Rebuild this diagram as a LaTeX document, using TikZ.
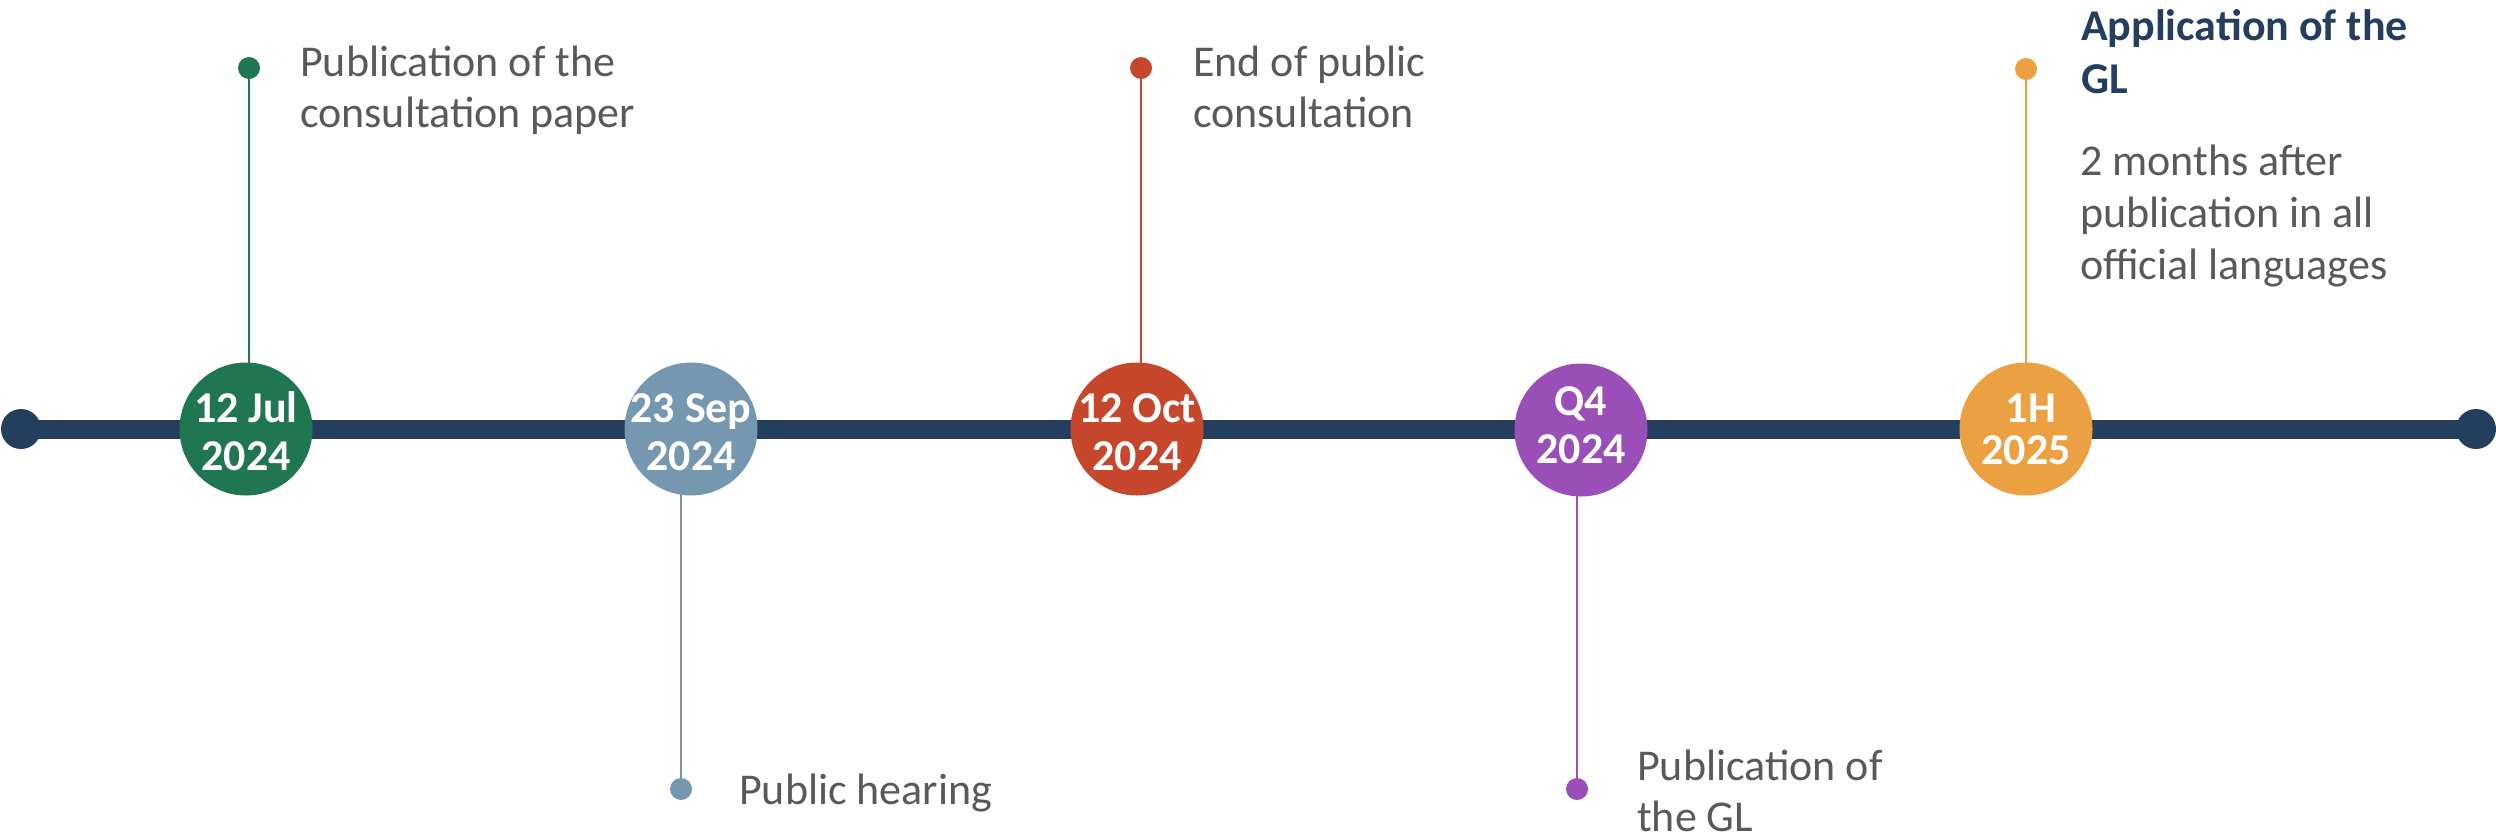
\documentclass[tikz,border=0pt]{standalone}
\usepackage{fontspec}
\setmainfont{Carlito}
\usetikzlibrary{backgrounds}
\definecolor{navy}{HTML}{243E5D}
\definecolor{cgreen}{HTML}{1F7650}
\definecolor{cblue}{HTML}{7597B0}
\definecolor{cred}{HTML}{C6472B}
\definecolor{cpurple}{HTML}{9A4FB8}
\definecolor{corange}{HTML}{EBA042}
\definecolor{txtgray}{HTML}{595959}
\definecolor{titlenavy}{HTML}{233E5F}
\begin{document}
\begin{tikzpicture}[x=1pt,y=-1pt,
  enddot/.style={circle,fill=navy,minimum size=40pt,inner sep=0pt},
  datecircle/.style={circle,fill=#1,minimum size=133pt,inner sep=0pt},
  datetext/.style={text=white,font=\bfseries\fontsize{44}{48}\selectfont,align=center,inner sep=0pt},
  stemdot/.style={circle,fill=#1,minimum size=22pt,inner sep=0pt},
  stem/.style={draw=#1,line width=2.5pt},
  desc/.style={anchor=north west,inner sep=0pt,text=txtgray,align=left,font=\fontsize{44}{51}\selectfont},
  title/.style={anchor=north west,inner sep=0pt,text=titlenavy,align=left,font=\bfseries\fontsize{44}{53}\selectfont}]
\useasboundingbox (0,0) rectangle (2496,836);
% end points
\node[enddot] (e1) at (21,429) {};
\node[enddot] (e2) at (2476,429) {};
% date circles
\node[datecircle=cgreen]  (c1) at (246,429) {};
\node[datecircle=cblue]   (c2) at (691,429) {};
\node[datecircle=cred]    (c3) at (1137,429) {};
\node[datecircle=cpurple] (c4) at (1581,430) {};
\node[datecircle=corange] (c5) at (2026,429) {};
\node[datetext,yshift=-7.4pt] (t1) at (c1) {\strut 12 Jul\\2024\strut};
\node[datetext,yshift=-7.4pt] (t2) at (c2) {\strut 23 Sep\\2024\strut};
\node[datetext,yshift=-7.4pt] (t3) at (c3) {\strut 12 Oct\\2024\strut};
\node[datetext] (t4) at (c4) {\strut Q4\\2024\strut};
\node[datetext,yshift=-6pt,font=\bfseries\fontsize{44}{40}\selectfont] (t5) at (c5) {\strut\hspace*{10pt}1H\\2025\strut};
% stem dots
\node[stemdot=cgreen]  (d1) at (249,68) {};
\node[stemdot=cblue]   (d2) at (681,789) {};
\node[stemdot=cred]    (d3) at (1141,68) {};
\node[stemdot=cpurple] (d4) at (1577,789) {};
\node[stemdot=corange] (d5) at (2026,69) {};
% lines behind
\begin{scope}[on background layer]
  \draw[navy,line width=19pt] (e1.center) -- (e2.center);
  \draw[stem=cgreen]  (d1.center) -- (d1 |- c1.center);
  \draw[stem=cblue]   (d2.center) -- (d2 |- c2.center);
  \draw[stem=cred]    (d3.center) -- (d3 |- c3.center);
  \draw[stem=cpurple] (d4.center) -- (d4 |- c4.center);
  \draw[stem=corange] (d5.center) -- (d5 |- c5.center);
\end{scope}
% descriptions
\node[desc] (l1) at (300,40.3) {\strut Publication of the\\consultation paper};
\node[desc] (l2) at (742-3,768.3) {\strut Public hearing};
\node[desc] (l3) at (1193,40.3) {\strut End of public\\consultation};
\node[desc] (l4) at (1637,744.3) {\strut Publication of\\the GL};
\node[title] (l5) at (2081,2.9) {\strut Application of the\\GL};
\node[desc,font=\fontsize{44}{52}\selectfont] (l6) at (2080,138.6) {\strut 2 months after\\publication in all\\official languages};
\end{tikzpicture}
\end{document}
